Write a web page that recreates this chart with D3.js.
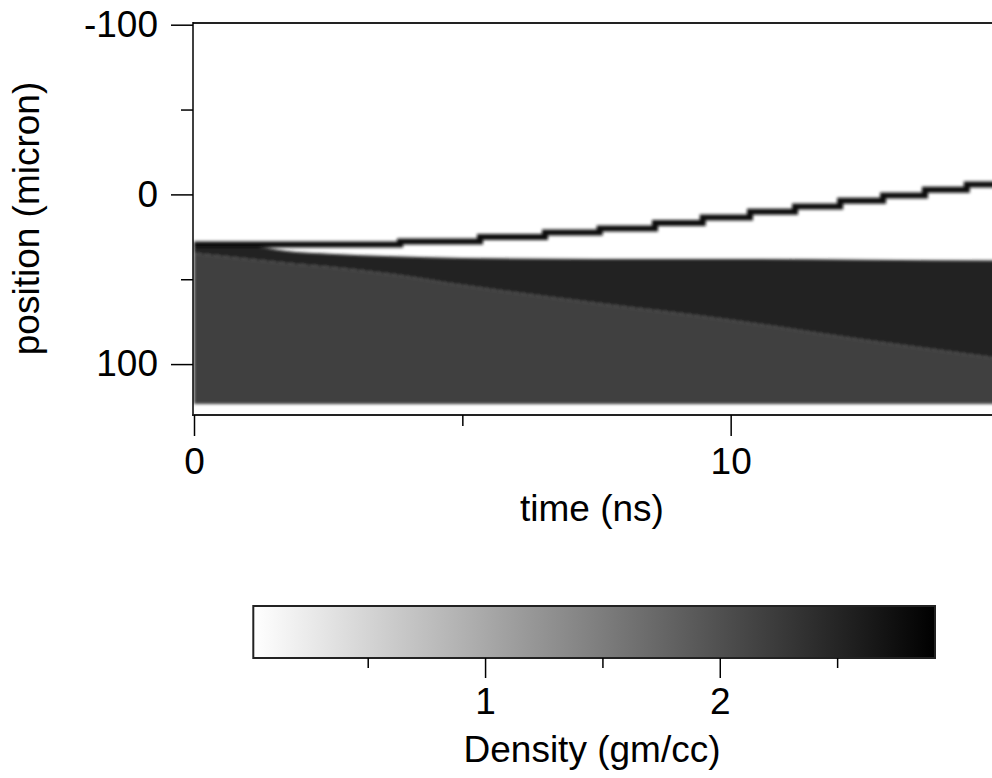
<!DOCTYPE html>
<html>
<head>
<meta charset="utf-8">
<script src="https://cdn.jsdelivr.net/npm/d3@7"></script>
<style>
  body { margin: 0; background: #fff; }
  text { font-family: "Liberation Sans", Arial, sans-serif; fill: #000; }
</style>
</head>
<body>
<svg id="chart" width="992" height="778"></svg>
<script>
// time samples (ns) and boundaries of the dense regions (micron)
const times    = [0, 1.2, 1.9, 2.5, 3.7, 5, 7.5, 10, 12.5, 15];
const frontPos = [28, 31, 34, 35, 36.5, 37.5, 38, 38, 38.5, 39];      // ablation front
const shockPos = [34.5, 38.6, 41, 42.6, 47, 53.4, 64, 74, 85.8, 96.5]; // shock front
const rearPos = 123.5;                                                  // back of the target

// outer edge of the ablated plasma (stepped, one step per mesh cell)
const edgeTimes = [0, 3.84, 5.33, 6.54, 7.56, 8.59, 9.48, 10.36, 11.2, 12.04, 12.84, 13.62, 14.4, 15];
const edgePos   = [29.5, 27.7, 25.1, 22.4, 20.1, 16.8, 13.6, 10.3, 7.1, 3.8, 0.6, -2.7, -5.9, -5.9];

// densities (gm/cc)
const solidDensity = 2.2, shockedDensity = 2.52, edgeDensity = 2.75;
const densityRange = [0.0125, 2.917];

// ticks
const xMajor = [0, 10], xMinor = [5, 15];
const yMajor = [-100, 0, 100], yMinor = [-50, 50];
const cMajor = [1, 2], cMinor = [0.5, 1.5, 2.5];

const svg = d3.select("#chart");

const x = d3.scaleLinear().domain([0, 15]).range([194, 999]);
const y = d3.scaleLinear().domain([-101, 130]).range([23, 415]);
const shade = d3.scaleLinear().domain(densityRange).range(["#ffffff", "#000000"]).clamp(true);

const defs = svg.append("defs");
defs.append("clipPath").attr("id", "plotClip")
  .append("rect").attr("x", 193).attr("y", 23).attr("width", 820).attr("height", 392);
defs.append("filter").attr("id", "soft")
  .attr("filterUnits", "userSpaceOnUse")
  .attr("x", 150).attr("y", 0).attr("width", 900).attr("height", 450)
  .append("feGaussianBlur").attr("stdDeviation", 1.6);

const rows = times.map((t, i) => ({ t, front: frontPos[i], shock: shockPos[i] }));

const plot = svg.append("g").attr("clip-path", "url(#plotClip)");
const heat = plot.append("g").attr("filter", "url(#soft)");

// shocked (compressed) layer
heat.append("path")
  .datum(rows)
  .attr("fill", shade(shockedDensity))
  .attr("d", d3.area()
    .curve(d3.curveMonotoneX)
    .x(d => x(d.t))
    .y0(d => y(d.front))
    .y1(d => y(d.shock)));

// unshocked solid
heat.append("path")
  .datum(rows)
  .attr("fill", shade(solidDensity))
  .attr("d", d3.area()
    .curve(d3.curveMonotoneX)
    .x(d => x(d.t))
    .y0(d => y(d.shock))
    .y1(() => y(rearPos)));

// plasma edge
heat.append("path")
  .datum(edgeTimes.map((t, i) => [t, edgePos[i]]))
  .attr("fill", "none")
  .attr("stroke", shade(edgeDensity))
  .attr("stroke-width", 6)
  .attr("d", d3.line()
    .curve(d3.curveStepAfter)
    .x(d => x(d[0]))
    .y(d => y(d[1])));

// frame
svg.append("line").attr("x1", 193).attr("x2", 992).attr("y1", 23).attr("y2", 23)
  .attr("stroke", "#222").attr("stroke-width", 2);
svg.append("line").attr("x1", 193).attr("x2", 193).attr("y1", 22).attr("y2", 416)
  .attr("stroke", "#000").attr("stroke-width", 1.5);
svg.append("line").attr("x1", 192).attr("x2", 992).attr("y1", 415).attr("y2", 415)
  .attr("stroke", "#222").attr("stroke-width", 2);

function styleAxis(g, fontSize) {
  g.select(".domain").remove();
  g.selectAll(".tick line").attr("stroke", "#000").attr("stroke-width", 1.5);
  g.selectAll("text").style("font-size", fontSize + "px").attr("fill", "#000");
}

// y axis
svg.append("g").attr("transform", "translate(193,0)")
  .call(d3.axisLeft(y).tickValues(yMajor).tickSize(22).tickPadding(13).tickFormat(d => String(d)))
  .call(g => styleAxis(g, 37));
svg.append("g").attr("transform", "translate(193,0)")
  .call(d3.axisLeft(y).tickValues(yMinor).tickSize(12).tickFormat(""))
  .call(g => styleAxis(g, 37));

// x axis
svg.append("g").attr("transform", "translate(0,415)")
  .call(d3.axisBottom(x).tickValues(xMajor).tickSize(21).tickPadding(12).tickFormat(d => String(d)))
  .call(g => styleAxis(g, 37));
svg.append("g").attr("transform", "translate(0,415)")
  .call(d3.axisBottom(x).tickValues(xMinor).tickSize(11).tickFormat(""))
  .call(g => styleAxis(g, 37));

svg.append("text")
  .attr("transform", "translate(39,218.5) rotate(-90)")
  .attr("text-anchor", "middle")
  .style("font-size", "37px")
  .text("position (micron)");

svg.append("text")
  .attr("x", 592).attr("y", 521)
  .attr("text-anchor", "middle")
  .style("font-size", "37px")
  .text("time (ns)");

// colour bar
const c = d3.scaleLinear().domain(densityRange).range([253.3, 935]);
const grad = defs.append("linearGradient").attr("id", "cbar")
  .attr("x1", "0%").attr("x2", "100%").attr("y1", "0%").attr("y2", "0%");
grad.selectAll("stop")
  .data(d3.range(0, 1.0001, 0.1))
  .join("stop")
  .attr("offset", d => (d * 100) + "%")
  .attr("stop-color", d => shade(densityRange[0] + d * (densityRange[1] - densityRange[0])));

svg.append("rect")
  .attr("x", c.range()[0]).attr("y", 606)
  .attr("width", c.range()[1] - c.range()[0]).attr("height", 52)
  .attr("fill", "url(#cbar)")
  .attr("stroke", "#222").attr("stroke-width", 2);

svg.append("g").attr("transform", "translate(0,658)")
  .call(d3.axisBottom(c).tickValues(cMajor).tickSize(20).tickPadding(10).tickFormat(d => String(d)))
  .call(g => styleAxis(g, 37));
svg.append("g").attr("transform", "translate(0,658)")
  .call(d3.axisBottom(c).tickValues(cMinor).tickSize(10).tickFormat(""))
  .call(g => styleAxis(g, 37));

svg.append("text")
  .attr("x", 592).attr("y", 762)
  .attr("text-anchor", "middle")
  .style("font-size", "37px")
  .text("Density (gm/cc)");
</script>
</body>
</html>
